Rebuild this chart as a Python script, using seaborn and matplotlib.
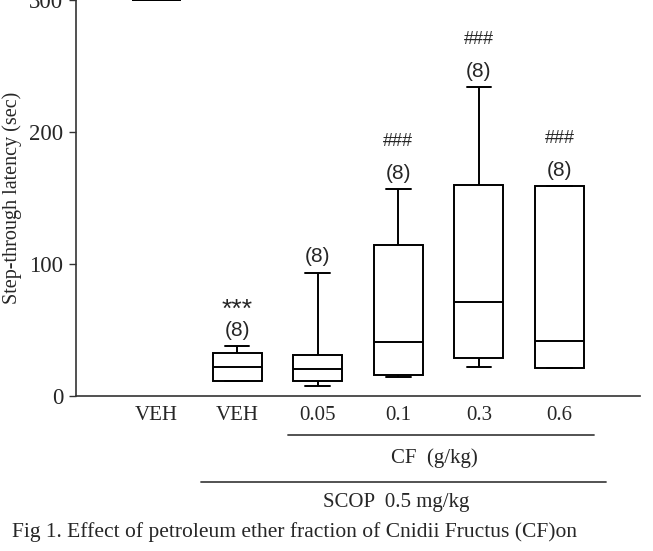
import numpy as np
import pandas as pd
import seaborn as sns
import matplotlib
matplotlib.use("Agg")
import matplotlib.pyplot as plt
from matplotlib.transforms import blended_transform_factory

# ---- data ----
groups = ["VEH", "SCOP+VEH", "CF 0.05", "CF 0.1", "CF 0.3", "CF 0.6"]
tick_labels = ["VEH", "VEH", "0.05", "0.1", "0.3", "0.6"]
whisker_low = [300, 11.4, 7.6, 14.2, 22.0, 21.0]
q1 = [300, 11.4, 11.4, 15.9, 28.5, 21.0]
median = [300, 21.7, 20.2, 40.7, 71.2, 41.7]
q3 = [300, 32.3, 31.3, 114.6, 160.0, 158.8]
whisker_high = [300, 38.0, 93.4, 156.6, 234.0, 158.8]
n_labels = ["", "(8)", "(8)", "(8)", "(8)", "(8)"]
sig_labels = ["", "***", "", "###", "###", "###"]
y_ticks = [0, 100, 200, 300]

# Build an 8-sample table per group reproducing the five-number summary
rows = []
for g, lo, a, m, b, hi in zip(groups, whisker_low, q1, median, q3, whisker_high):
    for v in [lo, a, a, m, m, b, b, hi]:
        rows.append({"group": g, "value": v})
df = pd.DataFrame(rows)

sns.set_theme(style="ticks")
plt.rcParams["font.family"] = ["Liberation Serif", "DejaVu Serif"]

fig = plt.figure(figsize=(6.53, 5.51), dpi=100)
ax = fig.add_axes([76 / 653, 1 - 396 / 551, (640 - 76) / 653, 396 / 551])

sns.boxplot(data=df, x="group", y="value", order=groups, ax=ax,
            color="white", linecolor="black", linewidth=1.4, width=0.61,
            whis=(0, 100), fliersize=0)

ax.set_xlim(-1.0, 6.0)
ax.set_ylim(0, 300)
ax.set_yticks(y_ticks)
ax.set_yticklabels([str(t) for t in y_ticks], fontsize=16.5)
ax.set_xticks(range(len(groups)))
ax.set_xticklabels(tick_labels, fontsize=15)
ax.tick_params(axis="x", length=0, pad=7)
ax.tick_params(axis="y", direction="out", length=5, width=1, color="#333333", pad=4)
ax.set_xlabel("")
ax.set_ylabel("")
for s in ["top", "right"]:
    ax.spines[s].set_visible(False)
for s in ["left", "bottom"]:
    ax.spines[s].set_color("#333333")
    ax.spines[s].set_linewidth(1.2)

fig.text(12 / 653, 1 - 198 / 551, "Step-through latency (sec)", rotation=90,
         ha="center", va="center", fontsize=14.5)

# annotations above boxes
for i, (hi, nl, sl) in enumerate(zip(whisker_high, n_labels, sig_labels)):
    if nl:
        ax.text(i, hi + 12, nl, ha="center", va="center", fontsize=15,
                family="Liberation Sans")
    if sl == "***":
        ax.text(i, hi + 27, sl, ha="center", va="center", fontsize=19,
                family="Liberation Sans")
    elif sl:
        ax.text(i, hi + 36, sl, ha="center", va="center", fontsize=13,
                family="Liberation Sans")

# grouping lines and labels below the axis
tr = blended_transform_factory(ax.transData, fig.transFigure)
ax.plot([1.625, 5.43], [1 - 435 / 551] * 2, color="#444444", lw=1.3,
        transform=tr, clip_on=False)
ax.plot([0.546, 5.58], [1 - 482 / 551] * 2, color="#444444", lw=1.3,
        transform=tr, clip_on=False)
ax.text(3.45, 1 - 458 / 551, "CF  (g/kg)", transform=tr, ha="center",
        va="center", fontsize=15)
ax.text(2.97, 1 - 503 / 551, "SCOP  0.5 mg/kg", transform=tr, ha="center",
        va="center", fontsize=15)

fig.text(12 / 653, 1 - 532 / 551,
         "Fig 1. Effect of petroleum ether fraction of Cnidii Fructus (CF)on",
         ha="left", va="center", fontsize=15.5)

fig.savefig("out.png", dpi=100)
